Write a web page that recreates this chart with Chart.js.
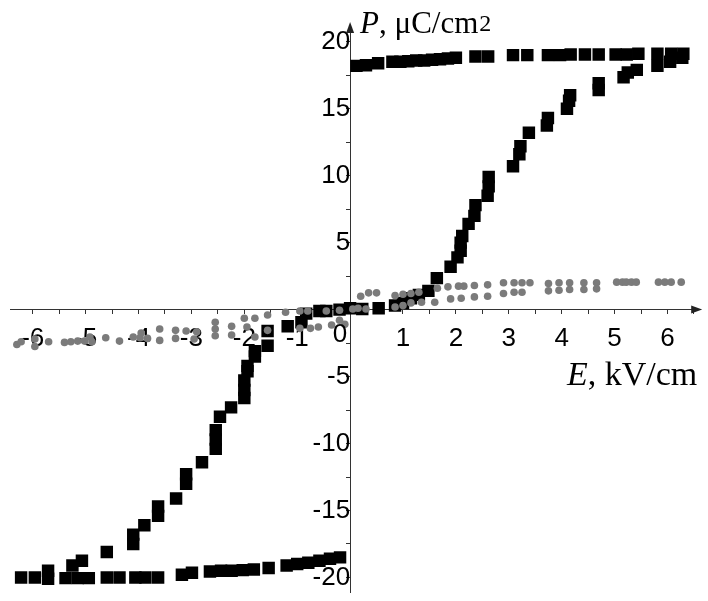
<!DOCTYPE html>
<html>
<head>
<meta charset="utf-8">
<script src="https://cdn.jsdelivr.net/npm/chart.js@4.4.1/dist/chart.umd.min.js"></script>
<style>
  body { margin: 0; background: #fff; }
  #wrap { width: 708px; height: 601px; position: relative; }
</style>
</head>
<body>
<div id="wrap"><canvas id="loopChart"></canvas></div>
<script>
// black squares: upper saturated branch (E > 0)
const upperE = [0.12, 0.3, 0.53, 0.8, 0.95, 1.1, 1.25, 1.4, 1.55, 1.7, 1.85, 2.0, 2.37, 2.61, 3.08, 3.35, 3.74, 3.97, 4.17, 4.44, 4.7, 5.02, 5.23, 5.45, 5.81, 6.07, 6.3];
const upperP = [18.2, 18.25, 18.4, 18.5, 18.5, 18.55, 18.6, 18.6, 18.65, 18.7, 18.75, 18.8, 18.9, 18.9, 19.0, 19.0, 19.0, 19.0, 19.05, 19.05, 19.05, 19.05, 19.05, 19.1, 19.1, 19.1, 19.1];

// black squares: rising part (E > 0)
const riseE = [0.0, 0.23, 0.54, 0.85, 1.0, 1.15, 1.3, 1.48, 1.64, 1.9, 2.03, 2.09, 2.09, 2.12, 2.24, 2.35, 2.37, 2.6, 2.62, 2.62, 3.08, 3.2, 3.22, 3.38, 3.72, 3.74, 4.1, 4.14, 4.16, 4.7, 4.7, 5.17, 5.25, 5.42, 5.81, 6.05, 6.28];
const riseP = [0.1, 0.05, 0.1, 0.3, 0.5, 0.85, 1.1, 1.4, 2.35, 3.2, 3.9, 4.4, 5.0, 5.5, 6.4, 7.0, 7.8, 8.5, 9.2, 9.9, 10.7, 11.6, 12.2, 13.2, 13.75, 14.3, 15.0, 15.6, 16.0, 16.4, 16.9, 17.35, 17.7, 17.9, 18.2, 18.5, 18.8];

// black squares: falling part (E < 0)
const fallE = [-0.2, -0.45, -0.58, -0.83, -0.92, -1.18, -1.56, -1.56, -1.8, -1.8, -1.94, -1.94, -2.0, -2.0, -2.0, -2.25, -2.46, -2.54, -2.54, -2.54, -2.8, -3.1, -3.1, -3.29, -3.63, -3.63, -3.89, -4.1, -4.1, -4.6, -5.07, -5.25, -5.71, -5.71];
const fallP = [0.0, -0.1, -0.1, -0.3, -0.95, -1.25, -1.6, -2.7, -3.1, -3.5, -4.2, -4.6, -5.3, -6.0, -6.6, -7.3, -8.0, -9.0, -9.7, -10.4, -11.4, -12.3, -13.0, -14.1, -14.7, -15.4, -16.1, -16.8, -17.5, -18.1, -18.75, -19.1, -19.5, -20.1];

// black squares: lower saturated branch (E < 0)
const lowerE = [-6.22, -5.96, -5.38, -5.15, -4.94, -4.6, -4.36, -4.06, -3.87, -3.63, -3.18, -2.99, -2.65, -2.44, -2.24, -2.03, -1.82, -1.54, -1.2, -1.0, -0.79, -0.58, -0.38, -0.19];
const lowerP = [-20.0, -20.0, -20.05, -20.05, -20.05, -20.0, -20.0, -20.0, -20.0, -20.0, -19.8, -19.65, -19.55, -19.5, -19.5, -19.45, -19.4, -19.3, -19.1, -19.0, -18.9, -18.75, -18.6, -18.5];

// grey dots
const greyE = [-6.3, -6.22, -5.96, -5.96, -5.7, -5.4, -5.28, -5.15, -5.02, -4.92, -4.88, -4.62, -4.36, -4.1, -3.97, -3.95, -3.83, -3.6, -3.6, -3.3, -3.3, -3.1, -2.95, -2.9, -2.55, -2.55, -2.55, -2.24, -2.24, -2.0, -1.95, -1.8, -1.8, -1.56, -1.56, -1.22, -0.95, -0.95, -0.8, -0.75, -0.6, -0.45, -0.35, -0.2, -0.2, -0.1,
  0.05, 0.15, 0.3, 0.2, 0.35, 0.5, 0.85, 0.85, 1.0, 1.0, 1.15, 1.15, 1.3, 1.35, 1.6, 1.65, 1.85, 1.9, 2.05, 2.1, 2.15, 2.35, 2.35, 2.6, 2.6, 2.9, 2.9, 3.1, 3.1, 3.25, 3.25, 3.4, 3.75, 3.75, 3.95, 3.95, 4.15, 4.15, 4.42, 4.42, 4.66, 4.66, 5.04, 5.15, 5.22, 5.32, 5.41, 5.83, 5.95, 6.07, 6.26];
const greyP = [-2.6, -2.4, -2.2, -2.75, -2.4, -2.45, -2.4, -2.35, -2.35, -2.05, -2.4, -2.1, -2.35, -2.05, -2.1, -1.75, -2.15, -1.45, -2.3, -1.55, -2.15, -1.6, -2.2, -1.65, -0.95, -1.45, -1.95, -1.25, -1.9, -0.65, -1.3, -0.65, -2.05, -0.4, -1.55, -0.2, -0.1, -1.4, -0.1, -1.4, -1.3, -0.1, -1.15, -0.05, -0.8, -1.1,
  0.05, 0.1, 0.05, 1.0, 1.25, 1.25, 1.05, 0.2, 1.15, 0.3, 1.2, 0.5, 1.3, 0.55, 0.55, 1.6, 1.7, 0.8, 1.75, 0.85, 1.75, 1.8, 0.95, 1.85, 1.0, 2.0, 1.2, 2.0, 1.3, 2.0, 1.3, 2.0, 1.95, 1.4, 2.0, 1.45, 2.0, 1.5, 2.0, 1.5, 2.0, 1.55, 2.05, 2.05, 2.05, 2.05, 2.05, 2.05, 2.05, 2.05, 2.05];

// axis ticks
const xTickMarks = [-6, -5.5, -5, -4.5, -4, -3.5, -3, -2.5, -2, -1.5, -1, -0.5, 0, 0.5, 1, 1.5, 2, 2.5, 3, 3.5, 4, 4.5, 5, 5.5, 6, 6.5];
const xTickLabels = [-6, -5, -4, -3, -2, -1, 1, 2, 3, 4, 5, 6];
const yTickMarks = [-20, -17.5, -15, -12.5, -10, -7.5, -5, -2.5, 0, 2.5, 5, 7.5, 10, 12.5, 15, 17.5, 20];
const yTickLabels = [-20, -15, -10, -5, 5, 10, 15, 20];

function toPoints(xs, ys) {
    return xs.map((x, i) => ({ x: x, y: ys[i] }));
}

const blackPoints = []
    .concat(toPoints(upperE, upperP))
    .concat(toPoints(riseE, riseP))
    .concat(toPoints(fallE, fallP))
    .concat(toPoints(lowerE, lowerP));

const axisDecor = {
    id: 'axisDecor',
    afterDraw(chart) {
        const c = chart.ctx;
        const xs = chart.scales.x, ys = chart.scales.y;
        const ox = xs.getPixelForValue(0), oy = ys.getPixelForValue(0);
        const area = chart.chartArea;
        c.save();
        c.fillStyle = '#222';
        // arrow heads
        c.beginPath();
        c.moveTo(ox, area.top - 3);
        c.lineTo(ox - 4, area.top + 8);
        c.lineTo(ox + 4, area.top + 8);
        c.closePath();
        c.fill();
        c.beginPath();
        c.moveTo(area.right + 3, oy);
        c.lineTo(area.right - 8, oy - 4);
        c.lineTo(area.right - 8, oy + 4);
        c.closePath();
        c.fill();

        c.fillStyle = '#000';
        c.font = '26px "Liberation Sans", Arial, sans-serif';
        c.textAlign = 'right';
        c.textBaseline = 'middle';
        c.fillText('0', ox - 3, oy + 25);

        // axis titles
        c.textAlign = 'left';
        c.textBaseline = 'alphabetic';
        let tx = ox + 10;
        c.font = 'italic 31px "Liberation Serif", "Times New Roman", serif';
        c.fillText('P', tx, 33);
        tx += c.measureText('P').width;
        c.font = '31px "Liberation Serif", "Times New Roman", serif';
        c.fillText(', μC/cm', tx, 33);
        tx += c.measureText(', μC/cm').width;
        c.font = '24px "Liberation Serif", "Times New Roman", serif';
        c.fillText('2', tx + 1, 31);

        tx = 567;
        c.font = 'italic 34px "Liberation Serif", "Times New Roman", serif';
        c.fillText('E', tx, 385);
        tx += c.measureText('E').width;
        c.font = '34px "Liberation Serif", "Times New Roman", serif';
        c.fillText(', kV/cm', tx, 385);
        c.restore();
    }
};

const ctx = document.getElementById('loopChart');

new Chart(ctx, {
    type: 'scatter',
    data: {
        datasets: [{
            label: 'grey',
            data: toPoints(greyE, greyP),
            pointStyle: 'circle',
            pointRadius: 3.8,
            pointBorderWidth: 0,
            backgroundColor: '#7b7b7b',
            borderColor: '#7b7b7b'
        },
        {
            label: 'black',
            data: blackPoints,
            pointStyle: 'rect',
            pointRadius: 8.8,
            pointBorderWidth: 0,
            backgroundColor: '#000',
            borderColor: '#000'
        }]
    },
    options: {
        responsive: true,
        maintainAspectRatio: false,
        animation: false,
        layout: { padding: { left: 10, right: 5, top: 25, bottom: 0 } },
        plugins: {
            legend: { display: false },
            tooltip: { enabled: false }
        },
        scales: {
            x: {
                type: 'linear',
                position: { y: 0 },
                min: -6.43,
                max: 6.6,
                afterBuildTicks: (scale) => { scale.ticks = xTickMarks.map(v => ({ value: v })); },
                afterFit: (scale) => { scale.paddingLeft = 0; scale.paddingRight = 0; },
                grid: { drawOnChartArea: false, tickLength: 4, color: '#333' },
                border: { color: '#333', width: 1 },
                ticks: {
                    autoSkip: false,
                    maxRotation: 0,
                    padding: 10,
                    color: '#000',
                    font: { family: '"Liberation Sans", Arial, sans-serif', size: 26 },
                    callback: (v) => xTickLabels.includes(v) ? String(v) : ''
                }
            },
            y: {
                type: 'linear',
                position: { x: 0 },
                min: -21.1,
                max: 21.25,
                afterBuildTicks: (scale) => { scale.ticks = yTickMarks.map(v => ({ value: v })); },
                afterFit: (scale) => { scale.paddingTop = 0; scale.paddingBottom = 0; },
                grid: { drawOnChartArea: false, tickLength: 4, color: '#333' },
                border: { color: '#333', width: 1 },
                ticks: {
                    autoSkip: false,
                    padding: 4,
                    color: '#000',
                    font: { family: '"Liberation Sans", Arial, sans-serif', size: 26 },
                    callback: (v) => yTickLabels.includes(v) ? String(v) : ''
                }
            }
        }
    },
    plugins: [axisDecor]
});
</script>
</body>
</html>
